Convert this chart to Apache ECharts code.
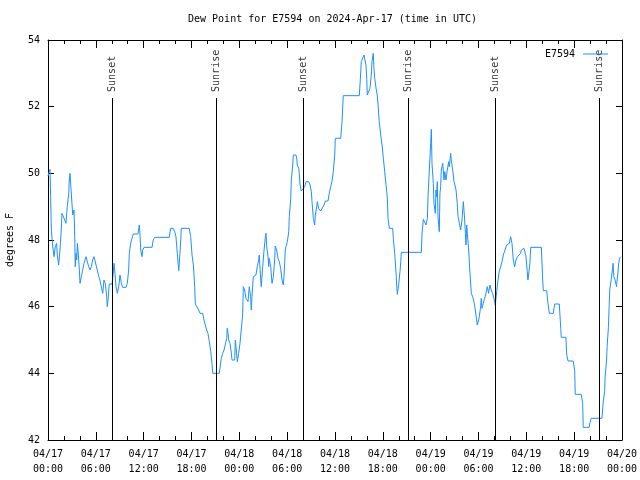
<!DOCTYPE html>
<html><head><meta charset="utf-8">
<script src="https://cdn.jsdelivr.net/npm/echarts@6/dist/echarts.min.js"></script>
<style>html,body{margin:0;padding:0;background:#fff}#c{width:640px;height:480px}</style>
</head><body><div id="c"></div>
<script>
const titleText = 'Dew Point for E7594 on 2024-Apr-17 (time in UTC)';
const seriesName = 'E7594';
const yAxisName = 'degrees F';
// minutes since 2024-04-17 00:00 UTC
const timeMin = [0,15,20,25,35,45,55,65,70,80,90,100,105,120,126,135,145,156,160,166,171,181,186,196,201,205,211,216,221,226,236,241,251,261,271,286,301,306,316,326,336,346,361,371,382,391,401,412,421,431,442,446,452,461,482,487,497,502,512,522,532,542,552,562,587,597,607,612,622,632,642,677,687,692,698,707,713,723,783,792,803,888,
913,923,943,954,963,973,984,993,999,1003,1063,1074,1084,1094,1104,1109,1124,1134,1144,1164,1174,1184,1194,1204,1214,1225,1234,1240,1289,1294,1304,1315,1325,1340,1345,1349,1355,1360,1370,1380,1385,1405,1410,1415,1425,1435,1445,1460,1465,1470,1480,1490,1505,1515,1525,1530,1535,1545,1565,1575,1586,1590,1601,1605,1616,1626,1636,1641,1646,1656,1661,1665,1676,1686,1696,1706,1710,1721,1731,1741,1751,1761,1771,1776,1786,1791,
1801,1812,1816,1827,1831,1842,1846,1866,1872,1876,1887,1891,1897,1906,1921,1932,1942,1962,1972,1982,1987,1997,2007,2012,2022,2027,2037,2052,2067,2077,2087,2107,2117,2128,2137,2147,2158,2162,2203,2213,2222,2343,2348,2358,2373,2378,2388,2393,2399,2403,2418,2423,2433,2438,2448,2453,2459,2469,2478,2484,2493,2504,2514,2524,2534,2544,2554,2559,2569,2594,2599,2609,2619,2624,2629,2639,2649,2655,2659,2694,
2810,2815,2825,2840,2845,2850,2855,2860,2870,2880,2885,2890,2900,2905,2915,2920,2925,2930,2935,2945,2950,2955,2960,2971,2980,2986,2995,3005,3016,3020,3031,3035,3046,3056,3071,3080,3086,3096,3106,3116,3121,3126,3136,3141,3146,3151,3156,3166,3176,3186,3196,3206,3216,3226,3231,3241,3246,3256,3261,3266,3276,3286,3296,3306,3316,3326,3336,3346,3356,3366,3377,3387,3396,3407,3417,3427,3442,3452,3472,3482,3486,3492,3502,3512,3522,3532,3547,3557,3562,3572,3582,3592,
3597,3607,3612,3622,3627,3633,3713,3723,3728,3753,3763,3773,3803,3813,3848,3859,3863,3898,3904,3914,3953,3964,3968,4013,4024,4028,4073,4079,4088,4169,4179,4189,4193,4204,4208,4218,4223,4228,4238,4249,4253,4258,4268,4279,4283,4288,4294,4301,4311];
const dewF = [49.92,50.12,49.30,48.30,47.85,47.50,47.80,47.90,47.55,47.25,47.70,48.30,48.80,48.80,48.60,48.50,49.00,49.40,49.80,50.00,49.65,49.05,48.75,48.90,48.10,47.20,47.60,47.40,47.90,47.70,47.10,46.70,46.90,47.10,47.30,47.50,47.50,47.20,47.10,47.20,47.40,47.50,47.50,47.10,46.90,46.80,46.60,46.40,46.80,46.70,46.30,46.00,46.20,46.68,46.68,46.84,47.30,47.10,46.60,46.40,46.60,46.95,46.70,46.58,46.58,46.70,47.10,47.60,47.90,48.05,48.18,48.18,48.45,48.20,47.70,47.50,47.70,47.78,47.78,48.00,48.08,48.08,
48.08,48.35,48.35,48.25,48.10,47.60,47.08,47.60,48.00,48.35,48.35,48.10,47.55,47.25,46.60,46.08,46.05,45.90,45.80,45.80,45.60,45.45,45.30,45.20,44.95,44.65,44.30,44.00,44.00,44.15,44.45,44.60,44.70,44.70,45.05,45.35,45.20,45.00,44.90,44.60,44.40,44.40,45.00,44.80,44.35,44.60,44.90,44.95,45.75,46.60,46.50,46.25,46.15,46.60,46.30,45.90,46.30,46.90,46.95,47.20,47.40,47.55,46.80,46.60,47.20,47.70,48.10,48.20,47.80,47.50,47.20,47.45,47.20,46.70,46.90,47.40,47.82,47.70,47.45,47.35,47.15,46.80,46.65,46.90,47.70,47.80,
47.95,48.25,48.70,49.25,49.80,50.25,50.55,50.55,50.45,50.25,50.15,50.00,49.65,49.47,49.47,49.60,49.75,49.75,49.65,49.45,49.15,48.65,48.45,48.75,49.00,49.15,48.95,48.87,48.87,49.05,49.17,49.17,49.40,49.60,49.75,50.05,50.55,51.05,51.05,51.55,52.33,52.33,52.65,53.35,53.40,53.55,53.60,53.25,52.85,52.35,52.35,52.55,52.95,53.35,53.60,53.15,52.85,52.55,52.35,52.05,51.55,51.15,50.85,50.45,50.05,49.65,49.25,48.65,48.35,48.35,48.05,47.60,47.05,46.65,46.37,46.65,47.05,47.35,47.63,47.63,
47.63,48.20,48.62,48.62,48.45,48.40,48.65,49.30,50.10,50.90,51.32,50.30,49.70,49.10,48.80,49.50,49.30,49.75,48.70,48.25,49.40,49.60,50.10,50.30,49.80,50.05,49.80,50.10,50.35,50.20,50.60,50.40,50.10,49.75,49.50,49.10,48.70,48.50,48.30,48.60,48.90,49.15,48.60,48.20,47.85,48.45,48.20,47.70,47.00,46.40,46.30,46.15,45.90,45.60,45.45,45.60,45.70,46.00,46.25,45.95,46.10,46.25,46.40,46.60,46.40,46.65,46.50,46.40,46.25,46.05,46.45,46.80,47.05,47.20,47.35,47.55,47.60,47.85,47.90,48.10,48.15,47.90,47.40,47.20,47.40,47.50,47.55,47.60,47.70,47.65,47.75,47.60,
47.52,47.05,46.80,46.80,47.30,47.78,47.78,46.80,46.48,46.48,46.10,45.80,45.80,46.08,46.08,45.35,45.08,45.08,44.55,44.37,44.37,44.08,43.37,43.37,43.10,42.38,42.38,42.52,42.65,42.65,43.15,43.45,43.90,44.40,44.80,45.40,46.00,46.50,46.80,47.15,47.30,46.90,46.80,46.60,46.80,46.95,47.25,47.45,47.50];
const xTickLabels = ['04/17\n00:00','04/17\n06:00','04/17\n12:00','04/17\n18:00','04/18\n00:00','04/18\n06:00','04/18\n12:00','04/18\n18:00','04/19\n00:00','04/19\n06:00','04/19\n12:00','04/19\n18:00','04/20\n00:00'];
const sunEventMin = [487,1267,1921,2715,3366,4149];
const sunEventLabels = ['Sunset','Sunrise','Sunset','Sunrise','Sunset','Sunrise'];
const sunLineTop = 52.26;
const sunLabelAnchor = 52.44;
const yMin = 42, yMax = 54, yStep = 2;
const xMin = 0, xMax = 4320, xStep = 360;

const FONT = 'DejaVu Sans Mono';
const chart = echarts.init(document.getElementById('c'), null, {renderer: 'canvas'});
const lineData = timeMin.map((t, i) => [t, dewF[i]]);
const axisCommon = {
  type: 'value', min: xMin, max: xMax, interval: xStep,
  axisLine: {show: true, onZero: false, lineStyle: {color: '#000', width: 1}},
  splitLine: {show: false}
};
chart.setOption({
  animation: false,
  backgroundColor: '#fff',
  title: {text: titleText, left: 188, top: 14, padding: 0, textStyle: {fontFamily: FONT, fontSize: 10, fontWeight: 'normal', color: '#000'}},
  legend: {data: [seriesName], right: 27, top: 44, align: 'right', icon: 'rect', itemWidth: 25, itemHeight: 1,
    textStyle: {fontFamily: FONT, fontSize: 10, color: '#000', padding: [0, 3, 0, 0]}},
  grid: {left: 48, right: 18, top: 40, bottom: 40, containLabel: false, outerBoundsMode: 'none'},
  xAxis: [
    Object.assign({}, axisCommon, {position: 'bottom',
      axisTick: {show: true, inside: true, length: 8, lineStyle: {color: '#000'}},
      minorTick: {show: true, splitNumber: 3, length: 4, lineStyle: {color: '#000'}},
      axisLabel: {show: true, fontFamily: FONT, fontSize: 10, color: '#000', margin: 7, lineHeight: 15,
        formatter: v => xTickLabels[Math.round((v - xMin) / xStep)]}}),
    Object.assign({}, axisCommon, {position: 'top',
      axisTick: {show: true, inside: true, length: 8, lineStyle: {color: '#000'}},
      minorTick: {show: true, splitNumber: 3, length: 4, lineStyle: {color: '#000'}},
      axisLabel: {show: false}})
  ],
  yAxis: [
    {type: 'value', min: yMin, max: yMax, interval: yStep, position: 'left',
      name: yAxisName, nameLocation: 'middle', nameGap: 33, nameRotate: 90,
      nameTextStyle: {fontFamily: FONT, fontSize: 10, color: '#000'},
      axisLine: {show: true, onZero: false, lineStyle: {color: '#000'}},
      axisTick: {show: true, inside: true, length: 6, lineStyle: {color: '#000'}},
      splitLine: {show: false},
      axisLabel: {fontFamily: FONT, fontSize: 10, color: '#000', margin: 8}},
    {type: 'value', min: yMin, max: yMax, interval: yStep, position: 'right',
      axisLine: {show: true, onZero: false, lineStyle: {color: '#000'}},
      axisTick: {show: true, inside: true, length: 6, lineStyle: {color: '#000'}},
      splitLine: {show: false}, axisLabel: {show: false}}
  ],
  series: [
    {name: 'sun', type: 'scatter', xAxisIndex: 0, yAxisIndex: 0, symbolSize: 0.1,
      itemStyle: {color: 'rgba(0,0,0,0)'}, silent: true, z: 1,
      data: sunEventMin.map((t, i) => ({value: [t, sunLabelAnchor], name: sunEventLabels[i]})),
      label: {show: true, formatter: p => p.name, rotate: 90, position: [0, 0], align: 'left', verticalAlign: 'middle',
        fontFamily: FONT, fontSize: 10, color: '#000'},
      markLine: {silent: true, symbol: ['none', 'none'], label: {show: false},
        lineStyle: {color: '#000', width: 1, type: 'solid'},
        data: sunEventMin.map(t => [{coord: [t, yMin]}, {coord: [t, sunLineTop]}])}},
    {name: seriesName, type: 'line', xAxisIndex: 0, yAxisIndex: 0, data: lineData, showSymbol: false, symbol: 'none',
      lineStyle: {color: '#1e90ff', width: 1}, itemStyle: {color: '#1e90ff'}, z: 3}
  ]
});
</script></body></html>
